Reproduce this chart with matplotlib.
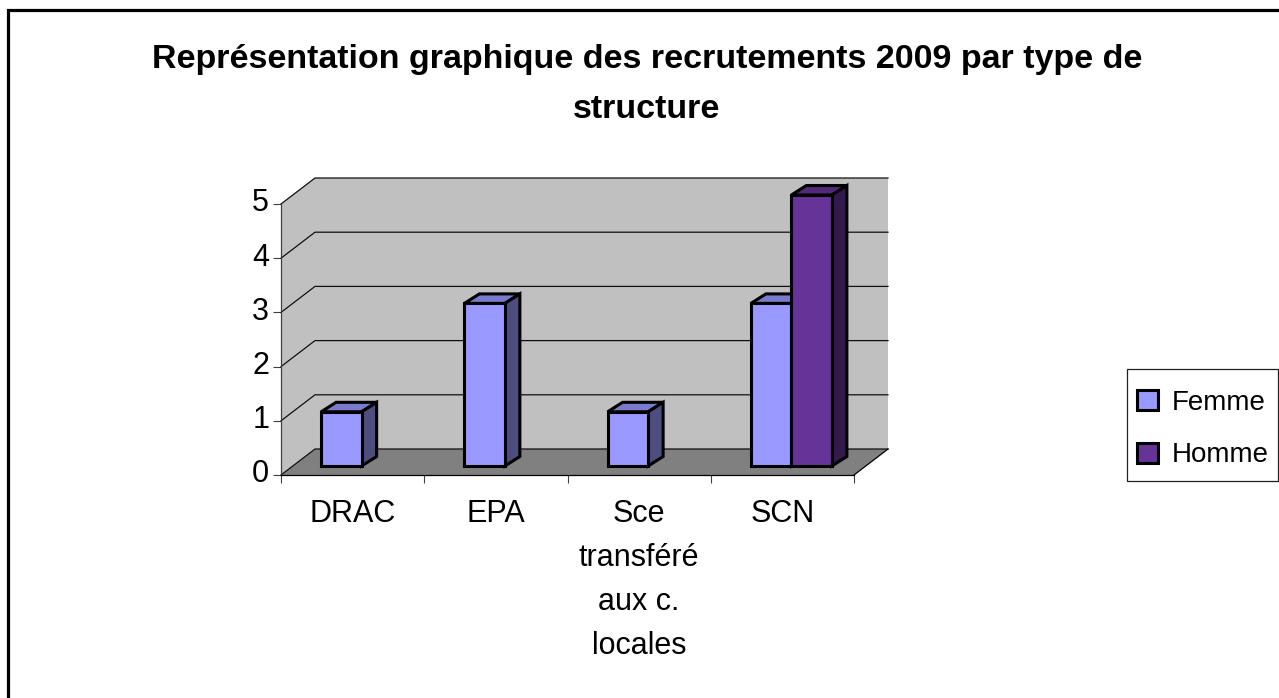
import numpy as np
from matplotlib import pyplot as plt
from matplotlib.lines import Line2D
from matplotlib.patches import Polygon, Patch, Rectangle
from matplotlib.transforms import ScaledTranslation

categories = ['DRAC', 'EPA', 'Sce\ntransféré\naux c.\nlocales', 'SCN']
femme = [1, 3, 1, 3]
homme = [0, 0, 0, 5]
yticks = [0, 1, 2, 3, 4, 5]
title = 'Représentation graphique des recrutements 2009 par type de\nstructure'

W, H = 1279, 698
plt.rcParams['font.family'] = ['Liberation Sans', 'DejaVu Sans']

fig = plt.figure(figsize=(W / 100, H / 100), dpi=100, facecolor='white')

# outer frame: only left and top are in the picture
fig.add_artist(Line2D([7.5 / W, 7.5 / W, 1], [0, 1 - 9.5 / H, 1 - 9.5 / H], color='black',
                      lw=2.3, solid_joinstyle='miter'))

# front plane of the fake 3d box, in pixels
ax = fig.add_axes([281 / W, 1 - 475 / H, 573 / W, 271 / H])
ax.set_xlim(0, 4)
ax.set_ylim(0, 5)
ax.patch.set_visible(False)
for s in ax.spines.values():
    s.set_visible(False)

ux = 573 / 4
uy = 271 / 5
wall_dx, wall_dy = 34 / ux, 26 / uy    # box depth
off_dx, off_dy = 9.5 / ux, 9 / uy      # bar front from front plane
bar_dx, bar_dy = 15 / ux, 9.5 / uy     # bar depth
bar_w = 40.5 / ux


def poly(pts, fc, ec='none', lw=0, z=1):
    ax.add_patch(Polygon(pts, closed=True, facecolor=fc, edgecolor=ec, linewidth=lw,
                         zorder=z, clip_on=False, joinstyle='miter'))


# wall, side wall and floor
poly([(0, 0), (wall_dx, wall_dy), (4 + wall_dx, wall_dy), (4 + wall_dx, 5 + wall_dy),
      (wall_dx, 5 + wall_dy), (0, 5)], '#C0C0C0')
poly([(0, 0), (wall_dx, wall_dy), (4 + wall_dx, wall_dy), (4, 0)], '#808080')
for v in yticks:
    ax.plot([0, wall_dx, 4 + wall_dx], [v, v + wall_dy, v + wall_dy], color='#101010', lw=0.9,
            clip_on=False, zorder=2)
ax.plot([0, 0], [0, 5], color='#404040', lw=0.9, clip_on=False, zorder=2)
ax.plot([0, 4], [0, 0], color='black', lw=0.9, clip_on=False, zorder=2)
ax.plot([4, 4 + wall_dx], [0, wall_dy], color='black', lw=0.9, clip_on=False, zorder=2)


def draw_bar(x, v, front, top, side, z):
    y0 = off_dy
    ax.bar(x, v, width=bar_w, bottom=y0, align='edge', color=front, edgecolor='black',
           linewidth=2.2, zorder=z + 0.2, clip_on=False)
    poly([(x, y0 + v), (x + bar_dx, y0 + v + bar_dy), (x + bar_w + bar_dx, y0 + v + bar_dy),
          (x + bar_w, y0 + v)], top, 'black', 2.2, z)
    poly([(x + bar_w, y0), (x + bar_w + bar_dx, y0 + bar_dy), (x + bar_w + bar_dx, y0 + v + bar_dy),
          (x + bar_w, y0 + v)], side, 'black', 2.2, z)


for i in range(len(categories)):
    right = i + 0.5 + off_dx - 0.5 / ux
    if femme[i] > 0:
        draw_bar(right - bar_w, femme[i], '#9999FF', '#7A7ACC', '#4D4D80', 3 + i)
    if homme[i] > 0:
        draw_bar(right, homme[i], '#663399', '#52297A', '#331A4D', 3.5 + i)

ax.set_xticks(range(5))
ax.set_xticklabels([])
ax.set_xticks(np.arange(4) + 0.5, categories, minor=True)
ax.tick_params(axis='x', which='major', length=5.5, width=0.8, color='#404040')
ax.tick_params(axis='x', which='minor', length=0, labelsize=22, pad=17)
ax.set_yticks(yticks)
ax.tick_params(axis='y', length=5.5, width=0.8, color='#404040', labelsize=22, pad=3)
for t in ax.get_xticklabels(minor=True):
    t.set_linespacing(1.62)
    t.set_ha('center')
for t in ax.get_yticklabels():
    t.set_transform(t.get_transform() + ScaledTranslation(0, 3 / 72, fig.dpi_scale_trans))

fig.text(647 / W, 1 - 59.5 / H, title.split('\n')[0], ha='center', va='center', fontsize=24.5,
         fontweight='bold')
fig.text(647 / W, 1 - 109 / H, title.split('\n')[1], ha='center', va='center', fontsize=24.5,
         fontweight='bold')

fig.add_artist(Rectangle((1127 / W, 1 - 481 / H), 151 / W, 112 / H, facecolor='white',
                         edgecolor='#202020', linewidth=0.9, transform=fig.transFigure))
handles = [Patch(facecolor='#9999FF', edgecolor='black', linewidth=2.2, label='Femme'),
           Patch(facecolor='#663399', edgecolor='black', linewidth=2.2, label='Homme')]
fig.legend(handles=handles, loc='upper left', bbox_to_anchor=(1137 / W, 1 - 390 / H),
           fontsize=20, frameon=False, handlelength=0.74, handleheight=0.74,
           handletextpad=0.5, labelspacing=0.95, borderpad=0, borderaxespad=0)

fig.savefig('out.png', dpi=100, facecolor='white')
